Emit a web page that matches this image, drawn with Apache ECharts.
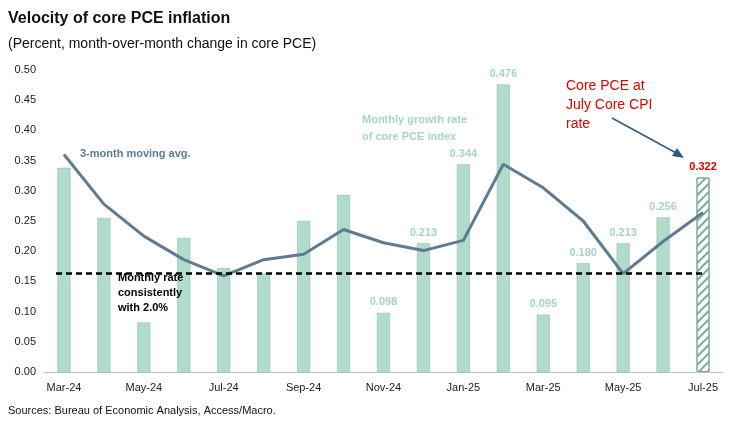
<!DOCTYPE html>
<html>
<head>
<meta charset="utf-8">
<script src="https://cdn.jsdelivr.net/npm/echarts@6/dist/echarts.min.js"></script>
<style>html,body{margin:0;padding:0;background:#fff}#chart{width:740px;height:429px}</style>
</head>
<body>
<div id="chart"></div>
<script>
var months = ['Mar-24','Apr-24','May-24','Jun-24','Jul-24','Aug-24','Sep-24','Oct-24','Nov-24','Dec-24',
    'Jan-25','Feb-25','Mar-25','Apr-25','May-25','Jun-25','Jul-25'];
var monthly = [0.338,0.255,0.082,0.222,0.172,0.163,0.250,0.293,0.098,0.213,0.344,0.476,0.095,0.180,0.213,0.256,0.322];
var movingAvg = [0.360,0.278,0.225,0.186,0.159,0.186,0.195,0.236,0.214,0.201,0.218,0.344,0.305,0.250,0.163,0.216,0.264];
var target = 0.164;
var labelled = [8,9,10,11,12,13,14,15];

var barData = [];
for (var i = 0; i < monthly.length; i++) {
    var d = {value: monthly[i]};
    if (labelled.indexOf(i) >= 0) {
        d.label = {show: true, position: 'top', color: '#a8d4c4', fontWeight: 'bold', fontSize: 11,
            formatter: function (p) { return p.value.toFixed(3); }};
    }
    if (i === monthly.length - 1) {
        d.itemStyle = {color: '#fff', borderColor: '#7aab9d', borderWidth: 1,
            decal: {symbol: 'rect', color: '#7aab9d', dashArrayX: [1, 0], dashArrayY: [2, 4], rotation: -Math.PI / 4}};
        d.label = {show: true, position: 'top', color: '#e00000', fontWeight: 'bold', fontSize: 11,
            formatter: function (p) { return p.value.toFixed(3); }};
    }
    barData.push(d);
}

var myChart = echarts.init(document.getElementById('chart'));
var option = {
    animation: false,
    textStyle: {fontFamily: 'Liberation Sans, Arial, sans-serif'},
    grid: {left: 44, right: 17, top: 70, bottom: 57},
    xAxis: {
        type: 'category',
        data: months,
        axisTick: {show: false},
        axisLine: {lineStyle: {color: '#bfbfbf'}},
        axisLabel: {interval: 1, color: '#222', fontSize: 11, margin: 10}
    },
    yAxis: {
        type: 'value',
        min: 0, max: 0.5, interval: 0.05,
        splitLine: {show: false},
        axisLabel: {color: '#222', fontSize: 11, formatter: function (v) { return v.toFixed(2); }}
    },
    series: [{
        type: 'bar',
        data: barData,
        barWidth: 13,
        itemStyle: {color: '#b1dccb', borderColor: '#86b9a8', borderWidth: 0.5}
    }, {
        type: 'line',
        data: movingAvg,
        symbol: 'none',
        lineStyle: {color: '#5f7b91', width: 3},
        markLine: {
            silent: true, symbol: 'none', label: {show: false},
            lineStyle: {color: '#000', type: [6, 4], width: 2.5},
            data: [[{coord: [0, target], x: 56}, {coord: [16, target], x: 706}]]
        }
    }],
    graphic: [
        {type: 'text', z: 100, left: 8, top: 11, style: {text: 'Velocity of core PCE inflation', fontSize: 16, fontWeight: 'bold', fill: '#111'}},
        {type: 'text', z: 100, left: 8, top: 37, style: {text: '(Percent, month-over-month change in core PCE)', fontSize: 14, fill: '#111'}},
        {type: 'text', z: 100, left: 8, top: 405, style: {text: 'Sources: Bureau of Economic Analysis, Access/Macro.', fontSize: 11, fill: '#111'}},
        {type: 'text', z: 100, left: 80, top: 148, style: {text: '3-month moving avg.', fontSize: 11, fontWeight: 'bold', fill: '#5f7b91'}},
        {type: 'text', z: 100, left: 362, top: 111, style: {text: 'Monthly growth rate\nof core PCE index', fontSize: 11, fontWeight: 'bold', lineHeight: 17, fill: '#a8d4c4'}},
        {type: 'text', z: 100, left: 118, top: 270, style: {text: 'Monthly rate\nconsistently\nwith 2.0%', fontSize: 11, fontWeight: 'bold', lineHeight: 15, fill: '#000'}},
        {type: 'text', z: 100, left: 566, top: 77, style: {text: 'Core PCE at\nJuly Core CPI\nrate', fontSize: 14, lineHeight: 19, fill: '#e00000'}},
        {type: 'line', z: 100, shape: {x1: 612, y1: 118, x2: 678, y2: 154}, style: {stroke: '#2a5f80', lineWidth: 1.5}},
        {type: 'polygon', z: 100, shape: {points: [[684, 158], [672, 156], [677, 148]]}, style: {fill: '#2a5f80'}}
    ]
};
myChart.setOption(option);
</script>
</body>
</html>
